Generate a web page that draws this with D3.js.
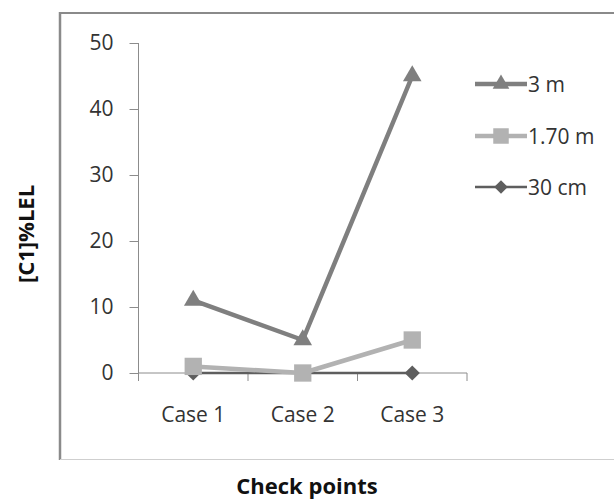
<!DOCTYPE html>
<html>
<head>
<meta charset="utf-8">
<script src="https://cdn.jsdelivr.net/npm/d3@7/dist/d3.min.js"></script>
<style>
  html, body { margin: 0; padding: 0; background: #fff; }
  svg { display: block; }
  text { font-family: "Open Sans", Lato, sans-serif; }
</style>
</head>
<body>
<svg id="chart" width="614" height="502"></svg>
<script>
// Categories and measured concentrations (% of lower explosive limit)
const categories = ["Case 1", "Case 2", "Case 3"];
const series3m   = [11, 5, 45];
const series170m = [1, 0, 5];
const series30cm = [0, 0, 0];
const seriesNames = ["3 m", "1.70 m", "30 cm"];
const yTicks = [0, 10, 20, 30, 40, 50];

// Rotated square used as the diamond marker
const symbolRhomb = {
  draw(context, size) {
    const r = Math.sqrt(size / 2);
    context.moveTo(0, -r);
    context.lineTo(r, 0);
    context.lineTo(0, r);
    context.lineTo(-r, 0);
    context.closePath();
  }
};

const series = [
  { name: seriesNames[0], values: series3m,   color: "#7f7f7f", width: 4.5, symbol: d3.symbolTriangle, size: 150 },
  { name: seriesNames[1], values: series170m, color: "#b2b2b2", width: 4.5, symbol: d3.symbolSquare,   size: 300 },
  { name: seriesNames[2], values: series30cm, color: "#5e5e5e", width: 2.5, symbol: symbolRhomb,       size: 115 }
];

const svg = d3.select("#chart");

// Plot frame
svg.append("line").attr("x1", 60).attr("x2", 614).attr("y1", 13).attr("y2", 13)
  .attr("stroke", "#8a8a8a").attr("stroke-width", 2);
svg.append("line").attr("x1", 60).attr("x2", 60).attr("y1", 12).attr("y2", 460)
  .attr("stroke", "#8a8a8a").attr("stroke-width", 2.5);
svg.append("line").attr("x1", 60).attr("x2", 614).attr("y1", 459.5).attr("y2", 459.5)
  .attr("stroke", "#cfcfcf").attr("stroke-width", 1);

const x = d3.scaleBand().domain(categories).range([138.5, 467]);
const y = d3.scaleLinear().domain([0, 50]).range([373, 43]);

// Y axis
const yAxis = svg.append("g").attr("transform", "translate(138.5,0)")
  .call(d3.axisLeft(y).tickValues(yTicks).tickSize(9).tickPadding(16));
yAxis.select(".domain").attr("stroke", "#8c8c8c").attr("d", `M0,${y(50)}V${y(0)}`);
yAxis.selectAll(".tick line").attr("stroke", "#8c8c8c");
yAxis.selectAll(".tick text").attr("font-size", 21).attr("fill", "#333").attr("font-family", "'Open Sans', sans-serif");

// X axis with tick marks at the category boundaries
const xAxisG = svg.append("g").attr("transform", `translate(0,${y(0)})`);
xAxisG.append("line").attr("x1", x.range()[0]).attr("x2", x.range()[1])
  .attr("stroke", "#8c8c8c").attr("stroke-width", 1);
const boundaries = categories.map(c => x(c)).concat([x.range()[1]]);
xAxisG.selectAll("line.tk").data(boundaries).join("line").attr("class", "tk")
  .attr("x1", d => d).attr("x2", d => d).attr("y1", 0).attr("y2", 8)
  .attr("stroke", "#8c8c8c");
xAxisG.selectAll("text").data(categories).join("text")
  .attr("x", d => x(d) + x.bandwidth() / 2).attr("y", 49)
  .attr("text-anchor", "middle").attr("font-size", 21).attr("fill", "#333")
  .text(d => d);

const cx = c => x(c) + x.bandwidth() / 2;
const line = d3.line().x((d, i) => cx(categories[i])).y(d => y(d));

// Draw bottom series first so the upper ones overlap
[...series].reverse().forEach(s => {
  svg.append("path").datum(s.values).attr("d", line)
    .attr("fill", "none").attr("stroke", s.color).attr("stroke-width", s.width)
    .attr("stroke-linejoin", "round");
  svg.selectAll(null).data(s.values).join("path")
    .attr("transform", (d, i) => `translate(${cx(categories[i])},${y(d)})`)
    .attr("d", d3.symbol().type(s.symbol).size(s.size))
    .attr("fill", s.color);
});

// Legend
const legendY = [84, 136, 187];
series.forEach((s, i) => {
  const g = svg.append("g").attr("transform", `translate(475,${legendY[i]})`);
  g.append("line").attr("x1", 0).attr("x2", 52).attr("stroke", s.color).attr("stroke-width", s.width);
  g.append("path").attr("transform", "translate(26,0)")
    .attr("d", d3.symbol().type(s.symbol).size(s.size * 0.8)).attr("fill", s.color);
  g.append("text").attr("x", 53).attr("y", 8).attr("font-size", 21).attr("fill", "#333").text(s.name);
});

// Axis titles
svg.append("text").attr("transform", "translate(34,234) rotate(-90)")
  .attr("text-anchor", "middle").attr("font-size", 22).attr("font-weight", "bold")
  .attr("fill", "#111").text("[C1]%LEL");
svg.append("text").attr("x", 307).attr("y", 494)
  .attr("text-anchor", "middle").attr("font-size", 22).attr("font-weight", "bold")
  .attr("fill", "#111").text("Check points");
</script>
</body>
</html>
